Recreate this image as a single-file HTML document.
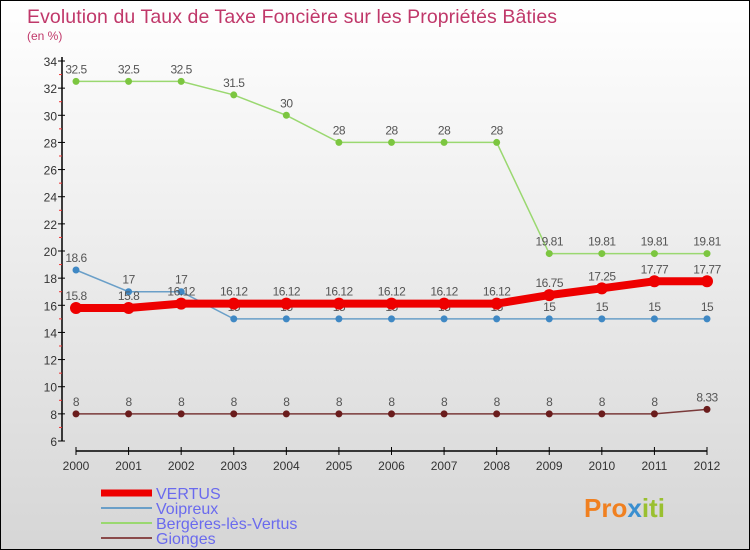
<!DOCTYPE html>
<html><head><meta charset="utf-8"><style>
body{margin:0}
#c{width:750px;height:550px;position:relative;overflow:hidden;box-sizing:border-box;border:1px solid #000;background:linear-gradient(#ffffff,#d6d6d6);font-family:"Liberation Sans",sans-serif}
</style></head><body>
<div id="c">
<svg id="s" width="750" height="550" style="position:absolute;left:0;top:0">
<text x="26" y="22" font-size="19.5" fill="#c0386a" textLength="530">Evolution du Taux de Taxe Foncière sur les Propriétés Bâties</text>
<text x="26" y="39" font-size="12" fill="#c0386a">(en %)</text>
<g id="axes"></g><g id="series"></g>
<text x="583" y="516" font-size="26" font-weight="bold" fill="#f08020">Pro<tspan fill="#3a8fd0">x</tspan><tspan fill="#9ac030">iti</tspan></text>
</svg>
</div>
<script>
const years=[2000,2001,2002,2003,2004,2005,2006,2007,2008,2009,2010,2011,2012];
const vertus=[15.8,15.8,16.12,16.12,16.12,16.12,16.12,16.12,16.12,16.75,17.25,17.77,17.77];
const voipreux=[18.6,17,17,15,15,15,15,15,15,15,15,15,15];
const bergeres=[32.5,32.5,32.5,31.5,30,28,28,28,28,19.81,19.81,19.81,19.81];
const gionges=[8,8,8,8,8,8,8,8,8,8,8,8,8.33];
const yTicks=[6,8,10,12,14,16,18,20,22,24,26,28,30,32,34];
const NS="http://www.w3.org/2000/svg";
const x=i=>75+i*(706-75)/(years.length-1);
const y=v=>440-(v-6)*(380/28);
function mk(t,a,p){const e=document.createElementNS(NS,t);for(const k in a)e.setAttribute(k,a[k]);p.appendChild(e);return e;}
const ax=document.getElementById('axes');
let l=mk('line',{x1:61,y1:56,x2:61,y2:440,stroke:'#000','stroke-width':1.5},ax);


l=mk('line',{x1:75,y1:450,x2:706,y2:450,stroke:'#000','stroke-width':1.5},ax);


yTicks.forEach((v,i)=>{
 mk('line',{x1:57,y1:y(v),x2:64,y2:y(v),stroke:'#000'},ax);
 if(i<yTicks.length-1) mk('line',{x1:58,y1:y(v+1),x2:61,y2:y(v+1),stroke:'#e33'},ax);
 const t=mk('text',{x:56,y:y(v)+5,'font-size':12,'text-anchor':'end',fill:'#333'},ax);
 t.textContent=v;
 
 
});
years.forEach((yr,i)=>{
 mk('line',{x1:x(i),y1:446,x2:x(i),y2:454,stroke:'#000'},ax);
 const t=mk('text',{x:x(i),y:469,'font-size':12,'text-anchor':'middle',fill:'#333'},ax);
 t.textContent=yr;
 
 
});
const sg=document.getElementById('series');
function series(vals,col,w,r,dot,name){
 const g=mk('g',{},sg);
 
 
 const p=mk('polyline',{points:vals.map((v,i)=>x(i)+','+y(v)).join(' '),fill:'none',stroke:col,'stroke-width':w},g);
 
 
 vals.forEach((v,i)=>{
  const c=mk('circle',{cx:x(i),cy:y(v),r:r,fill:dot},g);
  
  
  const t=mk('text',{x:x(i),y:y(v)-8,'font-size':12,'text-anchor':'middle',fill:'#555','letter-spacing':'-0.5'},g);
  t.textContent=v;
  
  
 });
}
series(bergeres,'#9ad870',1.5,3.5,'#7cc640','bergeres');
series(voipreux,'#6a9fc8',1.5,3.5,'#3f88c4','voipreux');
series(gionges,'#7a3a3a',1.5,3.5,'#6a1c1c','gionges');
series(vertus,'#ee0000',8,6,'#ee0000','vertus');
const leg=[['VERTUS','#ee0000',7],['Voipreux','#6a9fc8',2],['Bergères-lès-Vertus','#9ad870',2],['Gionges','#8a4a4a',2]];
leg.forEach((e,i)=>{
 const yy=492+i*15;
 const g=mk('g',{},sg);
 
 
 mk('line',{x1:100,y1:yy,x2:151,y2:yy,stroke:e[1],'stroke-width':e[2]},g);
 const t=mk('text',{x:155,y:yy+6,'font-size':16,fill:'#6a6aee'},g);
 t.textContent=e[0];
});
</script>
</body></html>
